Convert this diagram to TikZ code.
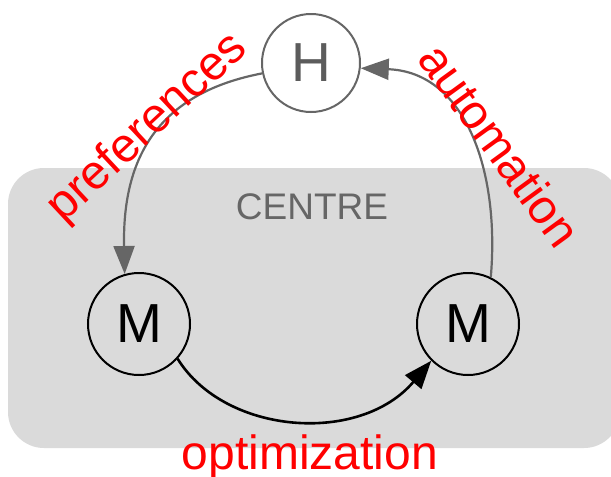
\documentclass[tikz,border=0pt]{standalone}
\usepackage{fontspec}
\setmainfont{Liberation Sans}
\usetikzlibrary{arrows.meta}
\definecolor{bggray}{HTML}{DADADA}
\definecolor{linegray}{HTML}{666666}
\begin{document}
\begin{tikzpicture}[x=1pt,y=-1pt,
  mnode/.style={circle,draw=black,line width=2pt,minimum size=102pt,inner sep=0pt,font=\fontsize{55}{55}\selectfont},
  hnode/.style={circle,draw=linegray,fill=white,line width=2pt,minimum size=98pt,inner sep=0pt,text=linegray!90!black,font=\fontsize{55}{55}\selectfont},
  lbl/.style={text=red,font=\fontsize{48}{48}\selectfont,inner sep=0pt},
  grayarrow/.style={draw=linegray,line width=2.2pt,-{Triangle[length=28pt,width=21pt]}},
  blackarrow/.style={draw=black,line width=2.6pt,-{Triangle[length=28pt,width=21pt]}}]
\useasboundingbox (0,0) rectangle (611,477);
\fill[white] (0,0) rectangle (611,477);
\fill[bggray,rounded corners=36pt] (8,168) rectangle (620,448);
\node[text=linegray,font=\fontsize{37}{37}\selectfont,inner sep=0pt] (centre) at (312,207) {CENTRE};
\node[hnode] (h) at (311,63) {H};
\node[mnode] (m1) at (139,324) {M};
\node[mnode] (m2) at (468,324) {M};
\draw[grayarrow] (h.192) .. controls (165,92) and (122,150) .. (m1.106);
\draw[grayarrow] (m2.64) .. controls (500,170) and (465,72) .. (h.-6);
\draw[blackarrow] (m1.-42) .. controls (225,435) and (360,445) .. (m2.-135);
\node[lbl,rotate=43] (pref) at (148,128) {preferences};
\node[lbl,rotate=-54] (auto) at (500,145) {automation};
\node[lbl] (opt) at (310,457) {optimization};
\end{tikzpicture}
\end{document}
